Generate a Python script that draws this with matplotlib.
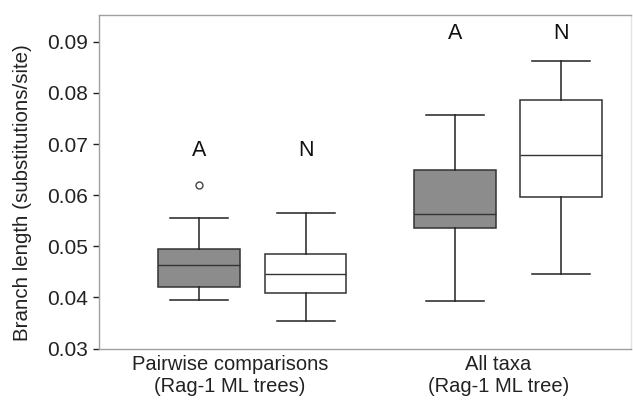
import matplotlib
matplotlib.use("Agg")
import matplotlib.pyplot as plt

plt.rcParams['font.family'] = ['Liberation Sans', 'DejaVu Sans']

# Box statistics
labels_letters = ["A", "N", "A", "N"]
positions = [1.0, 2.0, 3.4, 4.4]
q1 = [0.0420, 0.0408, 0.0536, 0.0597]
med = [0.0463, 0.0445, 0.0564, 0.0678]
q3 = [0.0494, 0.0485, 0.0649, 0.0786]
whislo = [0.0394, 0.0354, 0.0393, 0.0445]
whishi = [0.0556, 0.0566, 0.0756, 0.0863]
fliers = [[0.0620], [], [], []]
fills = ["#8c8c8c", "white", "#8c8c8c", "white"]
letter_y = [0.0688, 0.0688, 0.0917, 0.0917]

group_labels = ["Pairwise comparisons\n(Rag-1 ML trees)", "All taxa\n(Rag-1 ML tree)"]
group_pos = [1.29, 3.81]
yticks = [0.03, 0.04, 0.05, 0.06, 0.07, 0.08, 0.09]
ylabel = "Branch length (substitutions/site)"

fig = plt.figure(figsize=(6.33, 4.05), dpi=100)
ax = fig.add_axes([0.157, 0.1395, 0.840, 0.8242])

stats = []
for i in range(len(positions)):
    stats.append(dict(med=med[i], q1=q1[i], q3=q3[i], whislo=whislo[i],
                      whishi=whishi[i], fliers=fliers[i]))

bp = ax.bxp(stats, positions=positions, widths=0.766, patch_artist=True,
            capwidths=0.545,
            boxprops=dict(edgecolor="#333333", linewidth=1.1),
            medianprops=dict(color="#333333", linewidth=1.0),
            whiskerprops=dict(color="#222222", linewidth=1.1),
            capprops=dict(color="#222222", linewidth=1.1),
            flierprops=dict(marker="o", markersize=5, markerfacecolor="white",
                            markeredgecolor="#444444", markeredgewidth=1.0))
for patch, c in zip(bp["boxes"], fills):
    patch.set_facecolor(c)

for x, y, t in zip(positions, letter_y, labels_letters):
    ax.text(x, y, t, ha="center", va="center", fontsize=15.5, color="#111111")

ax.set_xlim(0.064, 5.056)
ax.set_ylim(0.03, 0.0953)
ax.set_yticks(yticks)
ax.set_yticklabels(["%.2f" % v for v in yticks])
ax.set_xticks(group_pos)
ax.set_xticklabels(group_labels, linespacing=1.2)
ax.tick_params(axis="x", length=0, labelsize=14.5, pad=5, colors="#222222")
ax.tick_params(axis="y", length=4.5, width=1, labelsize=15, pad=3.5,
               colors="#222222")
ax.set_ylabel(ylabel, fontsize=14.8, color="#222222", va="center")
ax.yaxis.set_label_coords(-0.144, 0.466)

for s in ["left", "bottom", "top"]:
    ax.spines[s].set_color("#a0a0a0")
    ax.spines[s].set_linewidth(1.0)
ax.spines["right"].set_color("#e4e4e4")
ax.spines["right"].set_linewidth(1.0)

fig.savefig("out.png", dpi=100)
